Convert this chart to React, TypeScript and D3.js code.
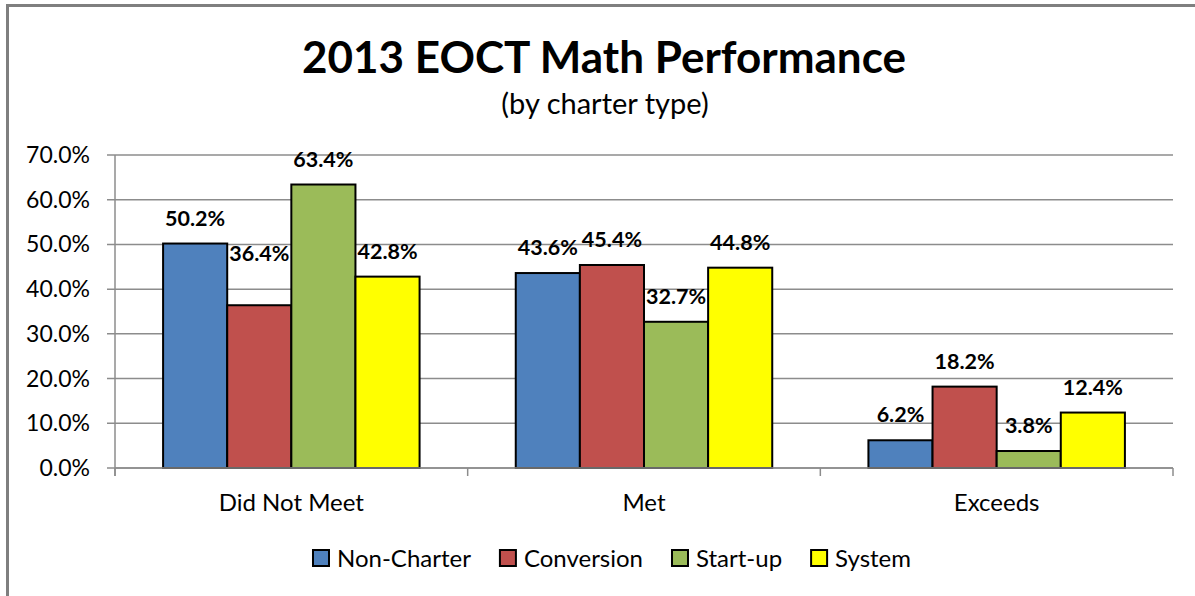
import { useEffect, useRef } from "react";
import * as d3 from "d3";

const categories = ["Did Not Meet", "Met", "Exceeds"];
const seriesNames = ["Non-Charter", "Conversion", "Start-up", "System"];
const seriesColors = ["#4F81BD", "#C0504D", "#9BBB59", "#FFFF00"];
// values per series, in category order
const nonCharter = [50.2, 43.6, 6.2];
const conversion = [36.4, 45.4, 18.2];
const startUp = [63.4, 32.7, 3.8];
const system = [42.8, 44.8, 12.4];
const yTicks = [0, 10, 20, 30, 40, 50, 60, 70];

const FONT = "Lato, 'Open Sans', sans-serif";

const App = () => {
  const svgRef = useRef<SVGSVGElement>(null);

  useEffect(() => {
    document.body.style.margin = "0";
    document.body.style.overflow = "hidden";

    const svg = d3.select(svgRef.current);
    svg.selectAll("*").remove();

    const W = 1195;
    const H = 596;
    const margin = { top: 155, right: 22, bottom: 128, left: 115 };
    const width = W - margin.left - margin.right;
    const height = H - margin.top - margin.bottom;
    const values = [nonCharter, conversion, startUp, system];

    svg.append("rect").attr("width", W).attr("height", H).attr("fill", "#fff");

    svg
      .append("text")
      .attr("x", 604)
      .attr("y", 73)
      .attr("text-anchor", "middle")
      .attr("font-family", FONT)
      .attr("font-size", 44)
      .attr("font-weight", "bold")
      .attr("fill", "#000")
      .text("2013 EOCT Math Performance");

    svg
      .append("text")
      .attr("x", 605)
      .attr("y", 114)
      .attr("text-anchor", "middle")
      .attr("font-family", FONT)
      .attr("font-size", 29)
      .attr("fill", "#000")
      .text("(by charter type)");

    const g = svg
      .append("g")
      .attr("transform", `translate(${margin.left},${margin.top})`);

    const x0 = d3.scaleBand().domain(categories).range([0, width]).paddingInner(0).paddingOuter(0);
    // 4 bars + gap of 1.5 bar widths per category
    const x1 = d3
      .scaleBand()
      .domain(seriesNames)
      .range([0, x0.bandwidth()])
      .paddingOuter(0.75)
      .paddingInner(0);
    const y = d3.scaleLinear().domain([0, 70]).range([height, 0]);

    // gridlines
    g.selectAll(".grid")
      .data(yTicks)
      .join("line")
      .attr("x1", -8)
      .attr("x2", width)
      .attr("y1", (d) => y(d))
      .attr("y2", (d) => y(d))
      .attr("stroke", "#8c8c8c")
      .attr("stroke-width", 1.5);

    // y axis line
    g.append("line")
      .attr("x1", 0)
      .attr("x2", 0)
      .attr("y1", 0)
      .attr("y2", height + 8)
      .attr("stroke", "#8c8c8c")
      .attr("stroke-width", 1.5);

    g.selectAll(".ylab")
      .data(yTicks)
      .join("text")
      .attr("x", -25)
      .attr("y", (d) => y(d) + 8)
      .attr("text-anchor", "end")
      .attr("font-family", FONT)
      .attr("font-size", 23)
      .attr("fill", "#000")
      .text((d) => d.toFixed(1) + "%");

    // category ticks on x axis
    const xTicks = [0, ...categories.map((c) => (x0(c) as number) + x0.bandwidth())];
    g.selectAll(".xtick")
      .data(xTicks)
      .join("line")
      .attr("x1", (d) => d)
      .attr("x2", (d) => d)
      .attr("y1", height)
      .attr("y2", height + 8)
      .attr("stroke", "#8c8c8c")
      .attr("stroke-width", 1.5);

    g.selectAll(".xlab")
      .data(categories)
      .join("text")
      .attr("x", (d) => (x0(d) as number) + x0.bandwidth() / 2)
      .attr("y", height + 43)
      .attr("text-anchor", "middle")
      .attr("font-family", FONT)
      .attr("font-size", 24)
      .attr("fill", "#000")
      .text((d) => d);

    const bars = categories.flatMap((c, ci) =>
      seriesNames.map((s, si) => ({ c, s, si, v: values[si][ci] }))
    );

    g.selectAll(".bar")
      .data(bars)
      .join("rect")
      .attr("x", (d) => (x0(d.c) as number) + (x1(d.s) as number))
      .attr("y", (d) => y(d.v))
      .attr("width", x1.bandwidth())
      .attr("height", (d) => height - y(d.v))
      .attr("fill", (d) => seriesColors[d.si])
      .attr("stroke", "#000")
      .attr("stroke-width", 2);

    // x axis line over bar bottoms
    g.append("line")
      .attr("x1", 0)
      .attr("x2", width)
      .attr("y1", height)
      .attr("y2", height)
      .attr("stroke", "#8c8c8c")
      .attr("stroke-width", 1.5);

    // one label was dragged higher in the original chart
    const raised = (d: { c: string; s: string }) => d.c === "Did Not Meet" && d.s === "Conversion";
    g.selectAll(".vlab")
      .data(bars)
      .join("text")
      .attr("x", (d) => (x0(d.c) as number) + (x1(d.s) as number) + x1.bandwidth() / 2)
      .attr("y", (d) => y(d.v) - (raised(d) ? 44 : 18))
      .attr("text-anchor", "middle")
      .attr("font-family", FONT)
      .attr("font-size", 21.5)
      .attr("font-weight", "bold")
      .attr("fill", "#000")
      .text((d) => d.v.toFixed(1) + "%");

    // legend
    const legend = svg.append("g");
    let cx = 0;
    seriesNames.forEach((s, i) => {
      const item = legend.append("g").attr("transform", `translate(${cx},0)`);
      item
        .append("rect")
        .attr("x", 0)
        .attr("y", -8)
        .attr("width", 16)
        .attr("height", 16)
        .attr("fill", seriesColors[i])
        .attr("stroke", "#000")
        .attr("stroke-width", 2);
      const t = item
        .append("text")
        .attr("x", 24)
        .attr("y", 8.5)
        .attr("font-family", FONT)
        .attr("font-size", 24)
        .attr("fill", "#000")
        .text(s);
      const tw = (t.node() as SVGTextElement).getComputedTextLength();
      cx += 24 + tw + 29;
    });
    const total = cx - 29;
    legend.attr("transform", `translate(${612 - total / 2},558)`);

    // chart frame, drawn last; its right and bottom edges fall outside the picture
    svg
      .append("path")
      .attr("d", `M7.5,${H} V5.5 H${W}`)
      .attr("fill", "none")
      .attr("stroke", "#7f7f7f")
      .attr("stroke-width", 3);
  }, []);

  return (
    <div style={{ position: "absolute", left: 0, top: 0 }}>
      <svg ref={svgRef} width={1195} height={596} style={{ display: "block" }} />
    </div>
  );
};

export default App;
